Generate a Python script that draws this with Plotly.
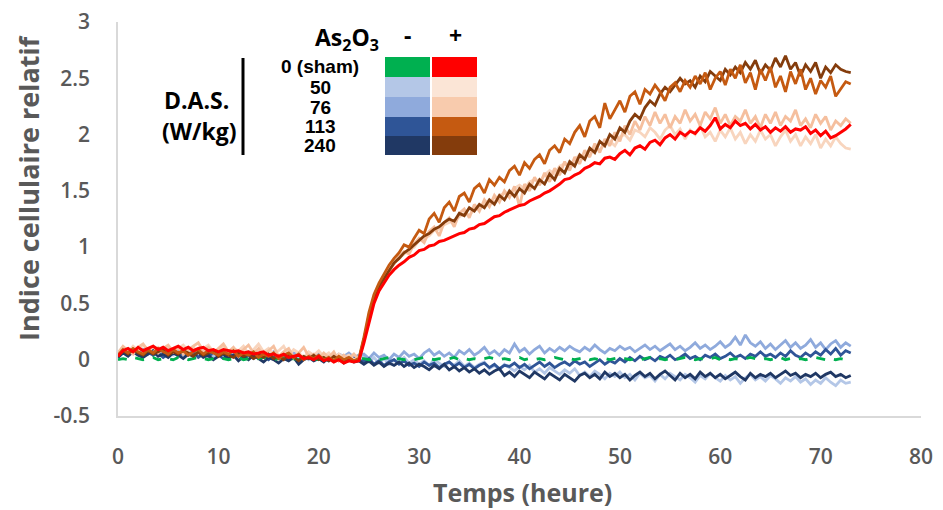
import plotly.graph_objects as go

# ---------------- data (relative cell index, sampled every 0.5 h) ----------------
step_h = 0.5

sham_minus = [
    0.00, 0.01, 0.00, 0.02, 0.01, 0.00, 0.01, 0.02, 0.00, 0.01,
    0.01, 0.00, 0.02, 0.01, 0.00, 0.01, 0.02, 0.01, 0.00, 0.01,
    0.02, 0.01, 0.00, 0.01, 0.02, 0.00, 0.01, 0.00, 0.01, 0.02,
    0.01, 0.00, 0.01, 0.02, 0.00, 0.01, 0.00, 0.01, 0.02, 0.01,
    0.00, 0.01, 0.00, 0.01, 0.02, 0.00, 0.01, 0.00, 0.01,
    0.01, 0.00, 0.01, 0.00, 0.01, 0.02, 0.00, 0.01, 0.00, 0.01,
    0.00, 0.01, 0.02, 0.01, 0.00, 0.01, 0.00, 0.01, 0.02, 0.00,
    0.01, 0.00, 0.01, 0.00, 0.01, 0.02, 0.01, 0.00, 0.01, 0.00,
    0.01, 0.02, 0.00, 0.01, 0.00, 0.01, 0.00, 0.01, 0.02, 0.01,
    0.00, 0.01, 0.00, 0.01, 0.02, 0.00, 0.01, 0.00, 0.01, 0.00,
    0.01, 0.02, 0.01, 0.00, 0.01, 0.00, 0.01, 0.02, 0.00, 0.01,
    0.00, 0.01, 0.00, 0.01, 0.02, 0.01, 0.00, 0.01, 0.00, 0.01,
    0.02, 0.00, 0.01, 0.00, 0.01, 0.00, 0.01, 0.02, 0.01, 0.00,
    0.01, 0.00, 0.01, 0.02, 0.00, 0.01, 0.00, 0.01, 0.00, 0.01,
    0.02, 0.01, 0.00, 0.01, 0.00, 0.01, 0.00, 0.01,
]

das50_minus = [
    0.02, 0.06, 0.04, 0.08, 0.05, 0.09, 0.06, 0.04, 0.07, 0.05,
    0.08, 0.04, 0.06, 0.03, 0.07, 0.05, 0.08, 0.04, 0.06, 0.03,
    0.05, 0.07, 0.04, 0.06, 0.02, 0.05, 0.03, 0.06, 0.04, 0.02,
    0.05, 0.03, 0.01, 0.04, 0.02, 0.05, 0.01, 0.03, 0.00, 0.04,
    0.02, 0.00, 0.03, 0.01, 0.04, 0.00, 0.02, 0.03, 0.01,
    0.03, -0.02, 0.02, -0.03, 0.01, -0.04, 0.00, -0.02, 0.02, -0.03,
    0.00, -0.04, -0.01, -0.05, 0.00, -0.03, -0.06, -0.02, -0.05, -0.01,
    -0.06, -0.03, -0.07, -0.04, -0.02, -0.08, -0.05, -0.09, -0.04, -0.07,
    -0.10, -0.06, -0.09, -0.05, -0.11, -0.08, -0.12, -0.07, -0.10, -0.13,
    -0.09, -0.12, -0.08, -0.14, -0.11, -0.15, -0.10, -0.13, -0.17, -0.12,
    -0.15, -0.11, -0.16, -0.13, -0.18, -0.12, -0.16, -0.14, -0.19, -0.13,
    -0.17, -0.12, -0.15, -0.18, -0.13, -0.16, -0.20, -0.14, -0.17, -0.12,
    -0.16, -0.19, -0.14, -0.18, -0.15, -0.21, -0.16, -0.13, -0.18, -0.15,
    -0.19, -0.14, -0.17, -0.21, -0.16, -0.19, -0.15, -0.20, -0.17, -0.22,
    -0.18, -0.21, -0.16, -0.20, -0.23, -0.18, -0.21, -0.20,
]

das76_minus = [
    0.04, 0.08, 0.05, 0.10, 0.06, 0.09, 0.05, 0.08, 0.04, 0.07,
    0.09, 0.05, 0.08, 0.04, 0.07, 0.10, 0.06, 0.08, 0.05, 0.07,
    0.04, 0.06, 0.08, 0.03, 0.06, 0.04, 0.07, 0.05, 0.03, 0.06,
    0.04, 0.07, 0.03, 0.05, 0.02, 0.06, 0.04, 0.02, 0.05, 0.03,
    0.06, 0.02, 0.04, 0.01, 0.05, 0.03, 0.06, 0.02, 0.04,
    0.05, 0.01, 0.06, 0.02, 0.04, 0.00, 0.05, 0.02, 0.07, 0.03,
    0.05, 0.01, 0.06, 0.09, 0.04, 0.07, 0.03, 0.06, 0.02, 0.08,
    0.05, 0.09, 0.04, 0.07, 0.11, 0.05, 0.08, 0.04, 0.09, 0.06,
    0.14, 0.07, 0.10, 0.05, 0.09, 0.12, 0.06, 0.10, 0.07, 0.11,
    0.08, 0.12, 0.09, 0.07, 0.11, 0.08, 0.13, 0.09, 0.06, 0.10,
    0.08, 0.12, 0.09, 0.11, 0.07, 0.10, 0.13, 0.09, 0.12, 0.08,
    0.11, 0.14, 0.09, 0.12, 0.08, 0.11, 0.15, 0.10, 0.13, 0.09,
    0.12, 0.16, 0.11, 0.14, 0.20, 0.13, 0.22, 0.15, 0.12, 0.16,
    0.10, 0.14, 0.09, 0.13, 0.17, 0.11, 0.15, 0.10, 0.13, 0.18,
    0.11, 0.15, 0.09, 0.14, 0.17, 0.11, 0.15, 0.12,
]

das113_minus = [
    0.03, 0.07, 0.04, 0.08, 0.05, 0.03, 0.07, 0.04, 0.06, 0.02,
    0.05, 0.07, 0.03, 0.06, 0.04, 0.07, 0.02, 0.05, 0.03, 0.06,
    0.04, 0.01, 0.05, 0.03, 0.06, 0.02, 0.04, 0.01, 0.05, 0.03,
    0.00, 0.04, 0.02, 0.05, 0.01, 0.03, -0.01, 0.02, 0.04, 0.00,
    0.03, 0.01, -0.01, 0.02, 0.00, 0.03, -0.01, 0.01, 0.00,
    -0.02, 0.01, -0.04, -0.01, -0.05, -0.02, 0.00, -0.04, -0.01, -0.05,
    -0.03, -0.06, -0.02, -0.05, -0.03, -0.07, -0.04, -0.02, -0.06, -0.03,
    -0.07, -0.04, -0.08, -0.05, -0.03, -0.07, -0.04, -0.08, -0.05, -0.06,
    -0.03, -0.07, -0.04, -0.08, -0.05, -0.02, -0.06, -0.03, -0.07, -0.04,
    -0.02, -0.05, -0.01, -0.04, -0.02, -0.06, -0.03, 0.00, -0.04, -0.01,
    -0.03, 0.01, -0.02, 0.02, -0.01, 0.03, 0.00, 0.02, -0.01, 0.03,
    0.01, 0.04, 0.00, 0.02, 0.05, 0.01, 0.03, 0.00, 0.04, 0.02,
    0.05, 0.01, 0.03, 0.06, 0.02, 0.04, 0.01, 0.05, 0.03, 0.07,
    0.03, 0.05, 0.02, 0.06, 0.03, 0.08, 0.04, 0.02, 0.06, 0.03,
    0.07, 0.04, 0.09, 0.05, 0.10, 0.04, 0.08, 0.06,
]

das240_minus = [
    0.02, 0.06, 0.03, 0.07, 0.04, 0.02, 0.05, 0.08, 0.03, 0.05,
    0.02, 0.06, 0.04, 0.01, 0.05, 0.03, 0.06, 0.02, 0.04, 0.00,
    0.03, 0.05, 0.01, 0.04, -0.01, 0.03, 0.00, 0.04, 0.01, -0.02,
    0.02, 0.00, -0.03, 0.01, -0.01, 0.02, -0.04, 0.00, 0.02, -0.01,
    0.01, -0.02, 0.02, -0.01, 0.01, -0.03, 0.00, -0.02, -0.01,
    -0.04, -0.01, -0.05, -0.02, -0.06, -0.03, -0.05, -0.02, -0.06, -0.03,
    -0.07, -0.04, -0.06, -0.09, -0.05, -0.08, -0.04, -0.09, -0.06, -0.10,
    -0.07, -0.11, -0.08, -0.12, -0.09, -0.13, -0.10, -0.08, -0.14, -0.11,
    -0.15, -0.10, -0.13, -0.16, -0.11, -0.14, -0.17, -0.12, -0.15, -0.18,
    -0.13, -0.16, -0.19, -0.14, -0.12, -0.16, -0.13, -0.17, -0.11, -0.15,
    -0.12, -0.16, -0.13, -0.18, -0.14, -0.11, -0.15, -0.12, -0.17, -0.13,
    -0.10, -0.14, -0.18, -0.12, -0.16, -0.13, -0.17, -0.11, -0.15, -0.12,
    -0.16, -0.13, -0.17, -0.14, -0.11, -0.15, -0.18, -0.12, -0.16, -0.13,
    -0.15, -0.12, -0.16, -0.13, -0.10, -0.14, -0.12, -0.16, -0.13, -0.15,
    -0.12, -0.16, -0.13, -0.11, -0.15, -0.13, -0.16, -0.14,
]

sham_plus = [
    0.03, 0.08, 0.10, 0.07, 0.11, 0.08, 0.10, 0.12, 0.09, 0.11,
    0.08, 0.10, 0.12, 0.09, 0.11, 0.08, 0.10, 0.11, 0.08, 0.09,
    0.07, 0.09, 0.08, 0.07, 0.08, 0.06, 0.07, 0.05, 0.06, 0.07,
    0.04, 0.05, 0.03, 0.05, 0.02, 0.03, 0.04, 0.01, 0.02, 0.00,
    0.03, -0.01, 0.01, -0.02, 0.00, -0.03, -0.01, -0.02, -0.01,
    0.15, 0.33, 0.50, 0.61, 0.68, 0.75, 0.80, 0.84, 0.87, 0.91,
    0.93, 0.97, 0.98, 1.01, 1.02, 1.05, 1.06, 1.08, 1.10, 1.12,
    1.13, 1.16, 1.17, 1.20, 1.21, 1.24, 1.27, 1.28, 1.31, 1.33,
    1.35, 1.37, 1.38, 1.41, 1.43, 1.45, 1.48, 1.50, 1.53, 1.56,
    1.60, 1.61, 1.64, 1.66, 1.70, 1.72, 1.75, 1.74, 1.79, 1.80,
    1.78, 1.83, 1.86, 1.82, 1.88, 1.90, 1.87, 1.93, 1.95, 1.91,
    1.97, 2.00, 1.96, 2.02, 1.99, 2.03, 2.01, 2.06, 2.03, 2.08,
    2.15, 2.05, 2.09, 2.06, 2.12, 2.08, 2.10, 2.05, 2.09, 2.04,
    2.07, 2.02, 2.06, 2.03, 2.07, 2.02, 2.05, 2.04, 2.07, 2.01,
    2.04, 1.99, 2.03, 1.97, 1.99, 2.02, 2.05, 2.09,
]

das50_plus = [
    0.05, 0.10, 0.07, 0.12, 0.08, 0.13, 0.09, 0.06, 0.11, 0.08,
    0.12, 0.07, 0.10, 0.13, 0.08, 0.11, 0.06, 0.10, 0.13, 0.07,
    0.09, 0.12, 0.06, 0.10, 0.08, 0.12, 0.05, 0.09, 0.14, 0.07,
    0.10, 0.05, 0.08, 0.12, 0.04, 0.09, 0.06, 0.02, 0.07, 0.04,
    0.08, 0.03, 0.06, 0.01, 0.05, 0.02, 0.04, 0.00, 0.02,
    0.16, 0.38, 0.54, 0.64, 0.72, 0.78, 0.86, 0.90, 0.94, 0.99,
    1.00, 1.06, 1.08, 1.10, 1.15, 1.16, 1.20, 1.22, 1.24, 1.27,
    1.30, 1.28, 1.34, 1.36, 1.38, 1.42, 1.40, 1.46, 1.48, 1.45,
    1.52, 1.55, 1.52, 1.58, 1.60, 1.58, 1.64, 1.68, 1.65, 1.72,
    1.74, 1.72, 1.78, 1.82, 1.80, 1.86, 1.88, 1.86, 1.92, 1.94,
    1.90, 1.98, 2.00, 1.95, 2.04, 2.02, 1.98, 2.06, 2.02, 1.96,
    2.04, 2.08, 2.00, 2.05, 1.96, 2.04, 2.00, 2.08, 1.98, 2.02,
    1.94, 2.04, 1.98, 2.06, 1.96, 2.02, 1.92, 2.00, 1.94, 2.04,
    1.96, 2.00, 1.90, 1.98, 2.04, 1.94, 2.00, 1.90, 1.98, 1.92,
    2.00, 1.88, 1.96, 1.90, 1.98, 1.92, 1.88, 1.87,
]

das76_plus = [
    0.06, 0.12, 0.08, 0.05, 0.11, 0.14, 0.08, 0.12, 0.06, 0.10,
    0.13, 0.07, 0.11, 0.05, 0.09, 0.12, 0.15, 0.08, 0.11, 0.06,
    0.10, 0.14, 0.07, 0.11, 0.05, 0.09, 0.13, 0.06, 0.10, 0.04,
    0.08, 0.12, 0.03, 0.07, 0.10, 0.02, 0.06, 0.11, 0.03, 0.05,
    0.01, 0.06, 0.02, 0.07, -0.01, 0.04, 0.01, 0.05, 0.00,
    0.18, 0.40, 0.56, 0.66, 0.73, 0.80, 0.85, 0.92, 0.96, 0.94,
    1.03, 1.08, 1.04, 1.14, 1.18, 1.10, 1.22, 1.26, 1.18, 1.30,
    1.34, 1.26, 1.38, 1.32, 1.42, 1.36, 1.46, 1.40, 1.50, 1.44,
    1.54, 1.36, 1.56, 1.50, 1.62, 1.55, 1.66, 1.58, 1.70, 1.64,
    1.76, 1.68, 1.80, 1.74, 1.86, 1.80, 1.92, 1.84, 1.96, 1.90,
    2.02, 1.94, 2.08, 2.00, 2.12, 2.04, 2.16, 2.08, 2.20, 2.10,
    2.18, 2.06, 2.16, 2.10, 2.22, 2.12, 2.18, 2.08, 2.20, 2.14,
    2.24, 2.10, 2.18, 2.08, 2.16, 2.12, 2.22, 2.10, 2.16, 2.06,
    2.18, 2.10, 2.20, 2.08, 2.16, 2.12, 2.22, 2.08, 2.14, 2.06,
    2.18, 2.10, 2.16, 2.04, 2.12, 2.08, 2.14, 2.10,
]

das113_plus = [
    0.04, 0.09, 0.06, 0.10, 0.07, 0.05, 0.09, 0.06, 0.10, 0.07,
    0.05, 0.09, 0.06, 0.08, 0.04, 0.07, 0.09, 0.05, 0.08, 0.06,
    0.04, 0.07, 0.05, 0.08, 0.03, 0.06, 0.04, 0.07, 0.02, 0.05,
    0.03, 0.06, 0.01, 0.04, 0.06, 0.02, 0.05, 0.00, 0.03, 0.01,
    0.04, 0.00, 0.02, -0.01, 0.03, 0.00, 0.02, -0.01, 0.01,
    0.20, 0.42, 0.58, 0.68, 0.76, 0.84, 0.90, 0.95, 1.02, 1.00,
    1.08, 1.15, 1.12, 1.25, 1.30, 1.22, 1.35, 1.40, 1.32, 1.45,
    1.48, 1.40, 1.52, 1.56, 1.48, 1.60, 1.55, 1.62, 1.58, 1.68,
    1.72, 1.64, 1.75, 1.70, 1.78, 1.82, 1.74, 1.86, 1.90, 1.84,
    1.96, 1.92, 2.02, 2.08, 1.98, 2.12, 2.16, 2.06, 2.28, 2.14,
    2.22, 2.30, 2.20, 2.34, 2.38, 2.27, 2.40, 2.36, 2.44, 2.38,
    2.30, 2.42, 2.46, 2.38, 2.48, 2.42, 2.52, 2.45, 2.55, 2.40,
    2.50, 2.56, 2.44, 2.58, 2.50, 2.62, 2.46, 2.55, 2.40, 2.58,
    2.48, 2.60, 2.42, 2.52, 2.38, 2.56, 2.45, 2.58, 2.40, 2.50,
    2.36, 2.48, 2.42, 2.52, 2.34, 2.40, 2.47, 2.45,
]

das240_plus = [
    0.03, 0.08, 0.05, 0.09, 0.06, 0.04, 0.08, 0.05, 0.07, 0.09,
    0.04, 0.07, 0.05, 0.08, 0.06, 0.03, 0.07, 0.04, 0.06, 0.08,
    0.03, 0.06, 0.04, 0.02, 0.06, 0.03, 0.05, 0.01, 0.04, 0.02,
    0.05, 0.01, 0.03, 0.00, 0.04, 0.02, -0.01, 0.03, 0.01, 0.04,
    0.00, 0.02, -0.01, 0.03, 0.00, -0.02, 0.01, -0.01, 0.00,
    0.18, 0.38, 0.55, 0.65, 0.72, 0.80, 0.86, 0.90, 0.95, 0.98,
    1.02, 1.06, 1.10, 1.12, 1.16, 1.18, 1.22, 1.25, 1.23, 1.30,
    1.28, 1.35, 1.32, 1.38, 1.35, 1.42, 1.38, 1.46, 1.42, 1.50,
    1.45, 1.52, 1.48, 1.56, 1.52, 1.60, 1.56, 1.65, 1.60, 1.70,
    1.66, 1.76, 1.72, 1.82, 1.78, 1.88, 1.84, 1.94, 1.90, 2.00,
    1.96, 2.06, 2.02, 2.12, 2.18, 2.14, 2.24, 2.30, 2.26, 2.36,
    2.42, 2.38, 2.44, 2.50, 2.45, 2.48, 2.42, 2.52, 2.47, 2.56,
    2.52, 2.48, 2.58, 2.53, 2.60, 2.55, 2.64, 2.58, 2.66, 2.54,
    2.62, 2.57, 2.68, 2.60, 2.70, 2.58, 2.64, 2.52, 2.62, 2.56,
    2.64, 2.50, 2.60, 2.55, 2.62, 2.58, 2.56, 2.55,
]

das_labels = ["0 (sham)", "50", "76", "113", "240"]
colors_minus = ["#00b050", "#b4c7e7", "#8faadc", "#2f5597", "#203864"]
colors_plus = ["#ff0000", "#fbe5d6", "#f8cbad", "#c55a11", "#843c0c"]
# the pale curves are drawn a shade deeper than their legend swatches
line_colors_plus = ["#ff0000", "#f8d5be", "#f5bf9e", "#c55a11", "#843c0c"]

x_tick_vals = [0, 10, 20, 30, 40, 50, 60, 70, 80]
y_tick_vals = [-0.5, 0, 0.5, 1, 1.5, 2, 2.5, 3]
y_tick_text = ["-0.5", "0", "0.5", "1", "1.5", "2", "2.5", "3"]

series_minus = [sham_minus, das50_minus, das76_minus, das113_minus, das240_minus]
series_plus = [sham_plus, das50_plus, das76_plus, das113_plus, das240_plus]

# ---------------- figure ----------------
fig = go.Figure()


def times(vals):
    return [i * step_h for i in range(len(vals))]


for i in [1, 2, 3, 4]:
    fig.add_trace(go.Scatter(x=times(series_minus[i]), y=series_minus[i], mode="lines",
                             line=dict(color=colors_minus[i], width=2.8),
                             name=das_labels[i] + " -"))
fig.add_trace(go.Scatter(x=times(series_minus[0]), y=series_minus[0], mode="lines",
                         line=dict(color=colors_minus[0], width=2.8, dash="dash"),
                         name=das_labels[0] + " -"))
for i in [1, 2, 4, 3]:
    fig.add_trace(go.Scatter(x=times(series_plus[i]), y=series_plus[i], mode="lines",
                             line=dict(color=line_colors_plus[i], width=2.8),
                             name=das_labels[i] + " +"))
fig.add_trace(go.Scatter(x=times(series_plus[0]), y=series_plus[0], mode="lines",
                         line=dict(color=line_colors_plus[0], width=3),
                         name=das_labels[0] + " +"))

# page body adds an 8 px margin; the figure is sized/offset to compensate
OFF = 8
W, H = 943 - OFF, 510 - OFF
L, R, T, B = 118 - OFF, 22, 22 - OFF, 94


def px(x):
    return (x - OFF - L) / (W - L - R)


def py(y):
    return (H - B - (y - OFF)) / (H - T - B)


FONT = "Open Sans, Arial, sans-serif"
tick_font = dict(family=FONT, size=21, color="#595959", weight=600)
title_font = dict(family=FONT, size=25, color="#595959", weight=700)
ytitle_font = dict(family=FONT, size=27, color="#595959", weight=700)
leg_font = dict(family="Liberation Sans, Arial, sans-serif", size=19, color="#000000", weight=700)
big_leg_font = dict(family=FONT, size=23, color="#000000", weight=700)

fig.update_layout(
    width=W, height=H,
    margin=dict(l=L, r=R, t=T, b=B, autoexpand=False),
    paper_bgcolor="white", plot_bgcolor="white",
    showlegend=False,
    xaxis=dict(range=[0, 80], tickvals=x_tick_vals, showgrid=False, zeroline=False,
               showline=True, linecolor="#d9d9d9", linewidth=1.5, automargin=False,
               ticks="outside", ticklen=21, tickcolor="rgba(0,0,0,0)",
               ticklabeloverflow="allow", tickfont=tick_font),
    yaxis=dict(range=[-0.5, 3], tickvals=y_tick_vals, ticktext=y_tick_text,
               showgrid=False, zeroline=False, automargin=False,
               showline=True, linecolor="#d9d9d9", linewidth=1.5,
               ticks="outside", ticklen=22, tickcolor="rgba(0,0,0,0)",
               ticklabeloverflow="allow", tickfont=tick_font),
)

annotations = [
    dict(text="Temps (heure)", x=px(522), y=py(492), xref="paper", yref="paper",
         showarrow=False, font=title_font, xanchor="center", yanchor="middle"),
    dict(text="Indice cellulaire relatif", x=px(28), y=py(188), xref="paper", yref="paper",
         showarrow=False, font=ytitle_font, textangle=-90, xanchor="center", yanchor="middle"),
    dict(text="As<sub>2</sub>O<sub>3</sub>", x=px(381), y=py(38), xref="paper", yref="paper",
         showarrow=False, font=big_leg_font, xanchor="right", yanchor="middle"),
    dict(text="-", x=px(407), y=py(35), xref="paper", yref="paper", showarrow=False,
         font=big_leg_font, xanchor="center", yanchor="middle"),
    dict(text="+", x=px(455), y=py(35), xref="paper", yref="paper", showarrow=False,
         font=big_leg_font, xanchor="center", yanchor="middle"),
    dict(text="D.A.S.", x=px(196), y=py(100), xref="paper", yref="paper", showarrow=False,
         font=big_leg_font, xanchor="center", yanchor="middle"),
    dict(text="(W/kg)", x=px(199), y=py(131), xref="paper", yref="paper", showarrow=False,
         font=big_leg_font, xanchor="center", yanchor="middle"),
]

row_tops = [57, 77, 97, 117, 136]
row_bots = [77, 97, 117, 136, 155]
shapes = []
for k, lab in enumerate(das_labels):
    yc = (row_tops[k] + row_bots[k]) / 2
    annotations.append(dict(text=lab, x=px(320), y=py(yc), xref="paper", yref="paper",
                            showarrow=False, font=leg_font, xanchor="center", yanchor="middle"))
    shapes.append(dict(type="rect", xref="paper", yref="paper",
                       x0=px(385), x1=px(430), y0=py(row_bots[k]), y1=py(row_tops[k]),
                       fillcolor=colors_minus[k], line=dict(width=0)))
    shapes.append(dict(type="rect", xref="paper", yref="paper",
                       x0=px(432), x1=px(477), y0=py(row_bots[k]), y1=py(row_tops[k]),
                       fillcolor=colors_plus[k], line=dict(width=0)))

shapes.append(dict(type="line", xref="paper", yref="paper",
                   x0=px(243), x1=px(243), y0=py(155), y1=py(58),
                   line=dict(color="#000", width=3)))

fig.update_layout(annotations=annotations, shapes=shapes)

fig.write_html("out.html")
